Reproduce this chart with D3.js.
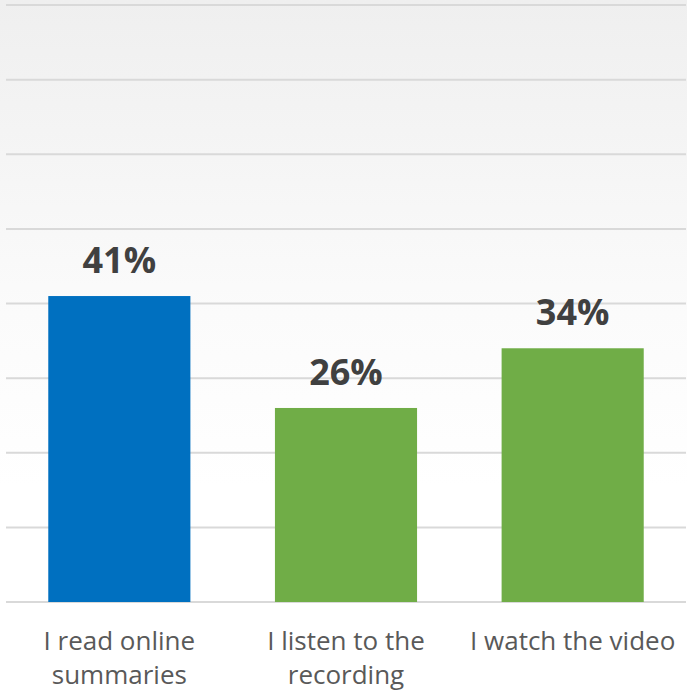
<!DOCTYPE html>
<html>
<head>
<meta charset="utf-8">
<script src="https://cdn.jsdelivr.net/npm/d3@7"></script>
<style>
  body { margin: 0; background: #fff; }
</style>
</head>
<body>
<svg id="chart"></svg>
<script>
const W = 687, H = 695;

// data
const categories = ["I read online summaries", "I listen to the recording", "I watch the video"];
const labelLines = [["I read online", "summaries"], ["I listen to the", "recording"], ["I watch the video"]];
const values = [41, 26, 34];
const barColors = ["#0070c0", "#70ad47", "#70ad47"];
const gridTicks = [0, 10, 20, 30, 40, 50, 60, 70, 80];

var margin = {top: 5, right: 1, bottom: 93, left: 6},
    width = W - margin.left - margin.right,
    height = H - margin.top - margin.bottom;

var svg = d3.select("#chart").attr("width", W).attr("height", H);

// soft grey-to-white background
var defs = svg.append("defs");
var grad = defs.append("linearGradient").attr("id", "bg")
  .attr("x1", 0).attr("y1", 0).attr("x2", 0).attr("y2", 1);
grad.append("stop").attr("offset", "0%").attr("stop-color", "#efefef");
grad.append("stop").attr("offset", "45%").attr("stop-color", "#fbfbfb");
grad.append("stop").attr("offset", "70%").attr("stop-color", "#ffffff");
svg.append("rect").attr("width", W).attr("height", H).attr("fill", "url(#bg)");

var g = svg.append("g").attr("transform", "translate(" + margin.left + "," + margin.top + ")");

var x = d3.scaleBand()
  .domain(categories)
  .range([0, width])
  .paddingInner(0.373)
  .paddingOuter(0.1865);

var y = d3.scaleLinear().domain([0, 80]).range([height, 0]);

// gridlines
g.append("g")
  .selectAll("line")
  .data(gridTicks)
  .enter()
  .append("line")
    .attr("x1", 0).attr("x2", width)
    .attr("y1", d => y(d)).attr("y2", d => y(d))
    .attr("stroke", "#d9d9d9")
    .attr("stroke-width", 2);

// bars
g.append("g")
  .selectAll("rect")
  .data(values)
  .enter()
  .append("rect")
    .attr("x", (d, i) => x(categories[i]))
    .attr("y", d => y(d))
    .attr("width", x.bandwidth())
    .attr("height", d => y(0) - y(d))
    .attr("fill", (d, i) => barColors[i]);

// value labels
g.append("g")
  .selectAll("text")
  .data(values)
  .enter()
  .append("text")
    .attr("x", (d, i) => x(categories[i]) + x.bandwidth() / 2)
    .attr("y", d => y(d) - 23)
    .attr("text-anchor", "middle")
    .style("font-family", "'Open Sans', 'Noto Sans', sans-serif")
    .style("font-weight", "bold")
    .style("font-size", "36px")
    .style("fill", "#404040")
    .text(d => d + "%");

// category labels
var cat = g.append("g")
  .selectAll("text")
  .data(categories)
  .enter()
  .append("text")
    .attr("text-anchor", "middle")
    .attr("x", d => x(d) + x.bandwidth() / 2)
    .attr("y", height + 48)
    .style("font-family", "'Open Sans', 'Noto Sans', sans-serif")
    .style("font-size", "26px")
    .style("fill", "#595959");

cat.selectAll("tspan")
  .data((d, i) => labelLines[i])
  .enter()
  .append("tspan")
    .attr("x", function() { return d3.select(this.parentNode).attr("x"); })
    .attr("dy", (d, i) => i === 0 ? 0 : 34)
    .text(d => d);
</script>
</body>
</html>
